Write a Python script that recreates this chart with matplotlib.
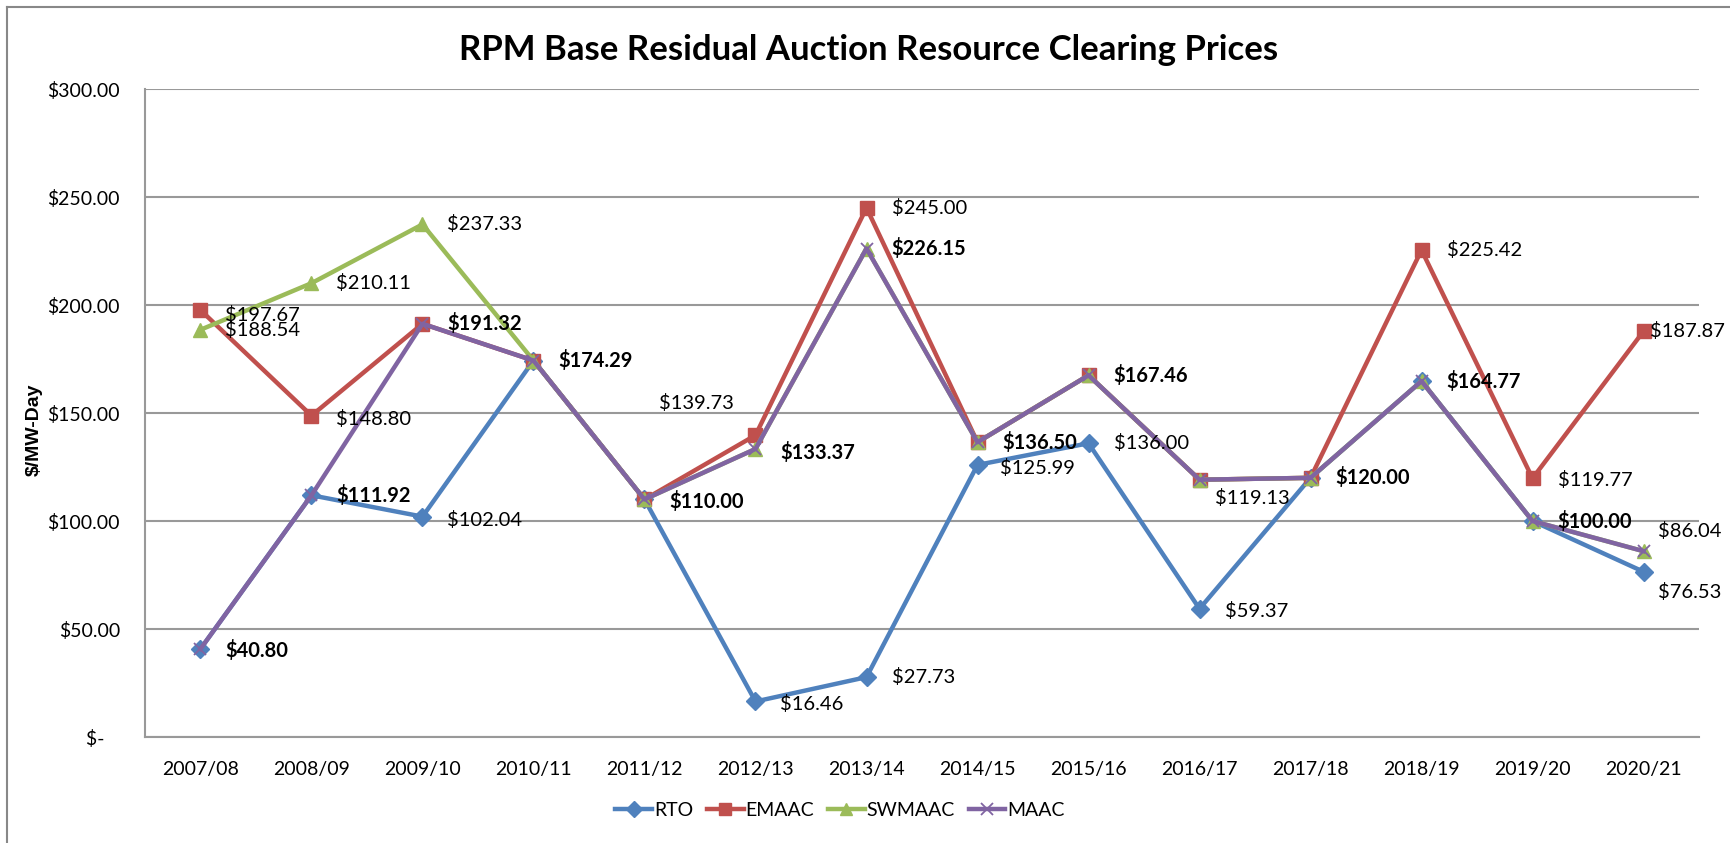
import matplotlib.pyplot as plt
from matplotlib.lines import Line2D

# Data
years = ["2007/08", "2008/09", "2009/10", "2010/11", "2011/12", "2012/13", "2013/14",
         "2014/15", "2015/16", "2016/17", "2017/18", "2018/19", "2019/20", "2020/21"]
rto = [40.80, 111.92, 102.04, 174.29, 110.00, 16.46, 27.73, 125.99, 136.00, 59.37, 120.00, 164.77, 100.00, 76.53]
emaac = [197.67, 148.80, 191.32, 174.29, 110.00, 139.73, 245.00, 136.50, 167.46, 119.13, 120.00, 225.42, 119.77, 187.87]
swmaac = [188.54, 210.11, 237.33, 174.29, 110.00, 133.37, 226.15, 136.50, 167.46, 119.13, 120.00, 164.77, 100.00, 86.04]
maac = [40.80, 111.92, 191.32, 174.29, 110.00, 133.37, 226.15, 136.50, 167.46, 119.13, 120.00, 164.77, 100.00, 86.04]

plt.rcParams['font.family'] = ['Lato', 'DejaVu Sans']

fig = plt.figure(figsize=(17.3, 8.43), dpi=100)
ax = fig.add_axes([0.0838, 0.1257, 0.8983, 0.7687])

x = list(range(len(years)))
series = [
    ("RTO", rto, "#4F81BD", "D", 9),
    ("EMAAC", emaac, "#C0504D", "s", 9.5),
    ("SWMAAC", swmaac, "#9BBB59", "^", 10),
    ("MAAC", maac, "#8064A2", "x", 9),
]
for name, vals, col, mk, ms in series:
    if mk == "x":
        ax.plot(x, vals, color=col, lw=3.2, marker=mk, ms=ms, mew=1.3, label=name)
    else:
        ax.plot(x, vals, color=col, lw=3.2, marker=mk, ms=ms, label=name)

# data labels: (series, index, dx px, dy px, bold)
data = {"RTO": rto, "EMAAC": emaac, "SWMAAC": swmaac, "MAAC": maac}
labels = [
    ("RTO", 2, 25, -3, False), ("RTO", 5, 25, -3, False), ("RTO", 6, 25, 0, False),
    ("RTO", 7, 22, -3, False), ("RTO", 8, 25, 0, False), ("RTO", 9, 25, -2, False),
    ("RTO", 13, 14, -20, False),
    ("EMAAC", 0, 25, -5, False), ("EMAAC", 1, 25, -3, False), ("EMAAC", 5, -96, 32, False),
    ("EMAAC", 6, 25, 0, False), ("EMAAC", 11, 25, 0, False), ("EMAAC", 12, 25, -2, False),
    ("EMAAC", 13, 6, 0, False),
    ("SWMAAC", 0, 25, 0, False), ("SWMAAC", 1, 25, 0, False), ("SWMAAC", 2, 25, 0, False),
    ("MAAC", 0, 25, -2, True), ("MAAC", 1, 25, 0, True), ("MAAC", 2, 25, 0, True),
    ("MAAC", 3, 25, 0, True), ("MAAC", 4, 25, -2, True), ("MAAC", 5, 25, -4, True),
    ("MAAC", 6, 25, 0, True), ("MAAC", 7, 25, 0, True), ("MAAC", 8, 25, 0, True),
    ("MAAC", 9, 15, -18, False), ("MAAC", 10, 25, 0, True), ("MAAC", 11, 25, 0, True),
    ("MAAC", 12, 25, 0, True), ("MAAC", 13, 14, 20, False),
]
for s, i, dx, dy, b in labels:
    v = data[s][i]
    ax.annotate(f"${v:.2f}", (i, v), xytext=(dx, dy), textcoords="offset pixels",
                ha="left", va="center", fontsize=14.5,
                fontweight="bold" if b else "normal", color="black")

ax.set_xlim(-0.5, len(years) - 0.5)
ax.set_ylim(0, 300)
ax.set_yticks([0, 50, 100, 150, 200, 250, 300])
ax.set_yticklabels(["$-   ", "$50.00", "$100.00", "$150.00", "$200.00", "$250.00", "$300.00"])
ax.set_xticks(x)
ax.set_xticklabels(years)
ax.tick_params(axis="both", length=0, labelsize=14)
ax.tick_params(axis="x", pad=17)
ax.tick_params(axis="y", pad=18)
ax.grid(axis="y", color="#999999", lw=1.5)
ax.set_axisbelow(True)
for sp in ["top", "right"]:
    ax.spines[sp].set_visible(False)
for sp in ["left", "bottom"]:
    ax.spines[sp].set_color("#999999")
    ax.spines[sp].set_linewidth(1.5)

ax.set_ylabel("$/MW-Day", fontsize=14, fontweight="bold", family="Liberation Sans")
ax.yaxis.set_label_coords(-0.066, 0.474)

fig.text(0.502, 0.941, "RPM Base Residual Auction Resource Clearing Prices",
         ha="center", va="center", fontsize=25, fontweight="bold")

fig.legend(*ax.get_legend_handles_labels(), loc="center", bbox_to_anchor=(0.4855, 0.039),
           ncol=4, frameon=False, fontsize=14, handlelength=1.9, columnspacing=0.7,
           handletextpad=0.1, markerscale=0.9)

# chart border
fig.add_artist(Line2D([0.004, 0.004], [0, 0.992], color="#888888", lw=1.5))
fig.add_artist(Line2D([0.004, 1.0], [0.992, 0.992], color="#888888", lw=1.5))

fig.savefig("out.png", dpi=100)
